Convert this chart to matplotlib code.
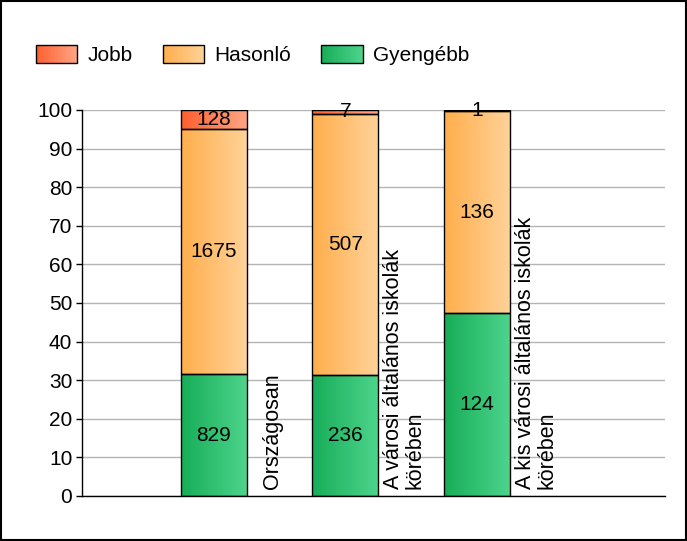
import numpy as np
import matplotlib
matplotlib.use("Agg")
import matplotlib.pyplot as plt
from matplotlib.colors import LinearSegmentedColormap
from matplotlib.patches import Rectangle
from matplotlib.legend_handler import HandlerBase

plt.rcParams["font.family"] = ["Liberation Sans", "DejaVu Sans"]

# Adatok ---------------------------------------------------------------
kategoriak = [
    "Országosan",
    "A városi általános iskolák\nkörében",
    "A kis városi általános iskolák\nkörében",
]
sorozatok = ["Gyengébb", "Hasonló", "Jobb"]
gyengebb = [829, 236, 124]
hasonlo = [1675, 507, 136]
jobb = [128, 7, 1]

# színátmenetek (bal -> jobb)
szinek = {
    "Jobb": ("#FF5F2E", "#FFA585"),
    "Hasonló": ("#FFAE4C", "#FFD298"),
    "Gyengébb": ("#17AD58", "#4DD48C"),
}
FS = 15

ertekek = np.array([gyengebb, hasonlo, jobb], dtype=float)
szazalek = ertekek / ertekek.sum(axis=0) * 100


class GradiensHandler(HandlerBase):
    """Színátmenetes téglalap a jelmagyarázatba."""

    def __init__(self, cmap):
        super().__init__()
        self.cmap = cmap

    def create_artists(self, legend, orig_handle, xdescent, ydescent,
                       width, height, fontsize, trans):
        n = 30
        artists = []
        for k in range(n):
            r = Rectangle((-xdescent + width * k / n, -ydescent), width / n + 0.3, height,
                          facecolor=self.cmap((k + 0.5) / n), edgecolor="none",
                          transform=trans)
            artists.append(r)
        artists.append(Rectangle((-xdescent, -ydescent), width, height, fill=False,
                                 edgecolor="black", linewidth=1, transform=trans))
        return artists


fig = plt.figure(figsize=(6.87, 5.41), dpi=100)
ax = fig.add_axes([0.1194, 0.0832, 0.8486, 0.7135])

x = np.arange(len(kategoriak))
gradiens = np.linspace(0, 1, 256).reshape(1, -1)
alap = np.zeros(len(kategoriak))
for nev, szaz, nyers in zip(sorozatok, szazalek, ertekek):
    cmap = LinearSegmentedColormap.from_list(nev, szinek[nev])
    bars = ax.bar(x, szaz, width=0.5, bottom=alap, facecolor="none",
                  edgecolor="black", linewidth=1, zorder=3)
    for p, v in zip(bars.patches, nyers):
        x0, y0 = p.get_x(), p.get_y()
        im = ax.imshow(gradiens, cmap=cmap, aspect="auto", zorder=2,
                       extent=(x0, x0 + p.get_width(), y0, y0 + p.get_height()))
        im.set_clip_path(p)
        ax.text(x0 + p.get_width() / 2, y0 + p.get_height() / 2, f"{int(v)}",
                ha="center", va="center", fontsize=FS, zorder=4)
    alap = alap + szaz

for i, kat in enumerate(kategoriak):
    ax.text(i + 0.45, 1.8, kat, rotation=90, rotation_mode="anchor",
            ha="left", va="center", fontsize=15.5, linespacing=1.02, zorder=4)

ax.set_xlim(-1.0, 3.43)
ax.set_ylim(0, 100)
ax.set_yticks(range(0, 101, 10))
ax.set_xticks([])
ax.tick_params(axis="y", labelsize=FS, length=4, width=1, pad=3)
ax.yaxis.grid(True, color="#B4B4B4", linewidth=1, zorder=0)
ax.set_axisbelow(True)
for s in ("top", "right"):
    ax.spines[s].set_visible(False)
for s in ("left", "bottom"):
    ax.spines[s].set_linewidth(1)

# jelmagyarázat: Jobb, Hasonló, Gyengébb sorrendben
leg_nevek = ["Jobb", "Hasonló", "Gyengébb"]
leg_handles = [Rectangle((0, 0), 1, 1) for _ in leg_nevek]
handler_map = {
    h: GradiensHandler(LinearSegmentedColormap.from_list(n, szinek[n]))
    for h, n in zip(leg_handles, leg_nevek)
}
fig.legend(leg_handles, leg_nevek, ncol=3, handler_map=handler_map,
           loc="upper left", bbox_to_anchor=(0.040, 0.932), frameon=False,
           fontsize=FS, handlelength=2.0, handleheight=0.92,
           handletextpad=0.48, columnspacing=1.45, borderaxespad=0)

fig.patches.append(Rectangle((0.002, 0.002), 0.996, 0.996, transform=fig.transFigure,
                             fill=False, edgecolor="black", linewidth=1.5))

fig.savefig("out.png", dpi=100)
